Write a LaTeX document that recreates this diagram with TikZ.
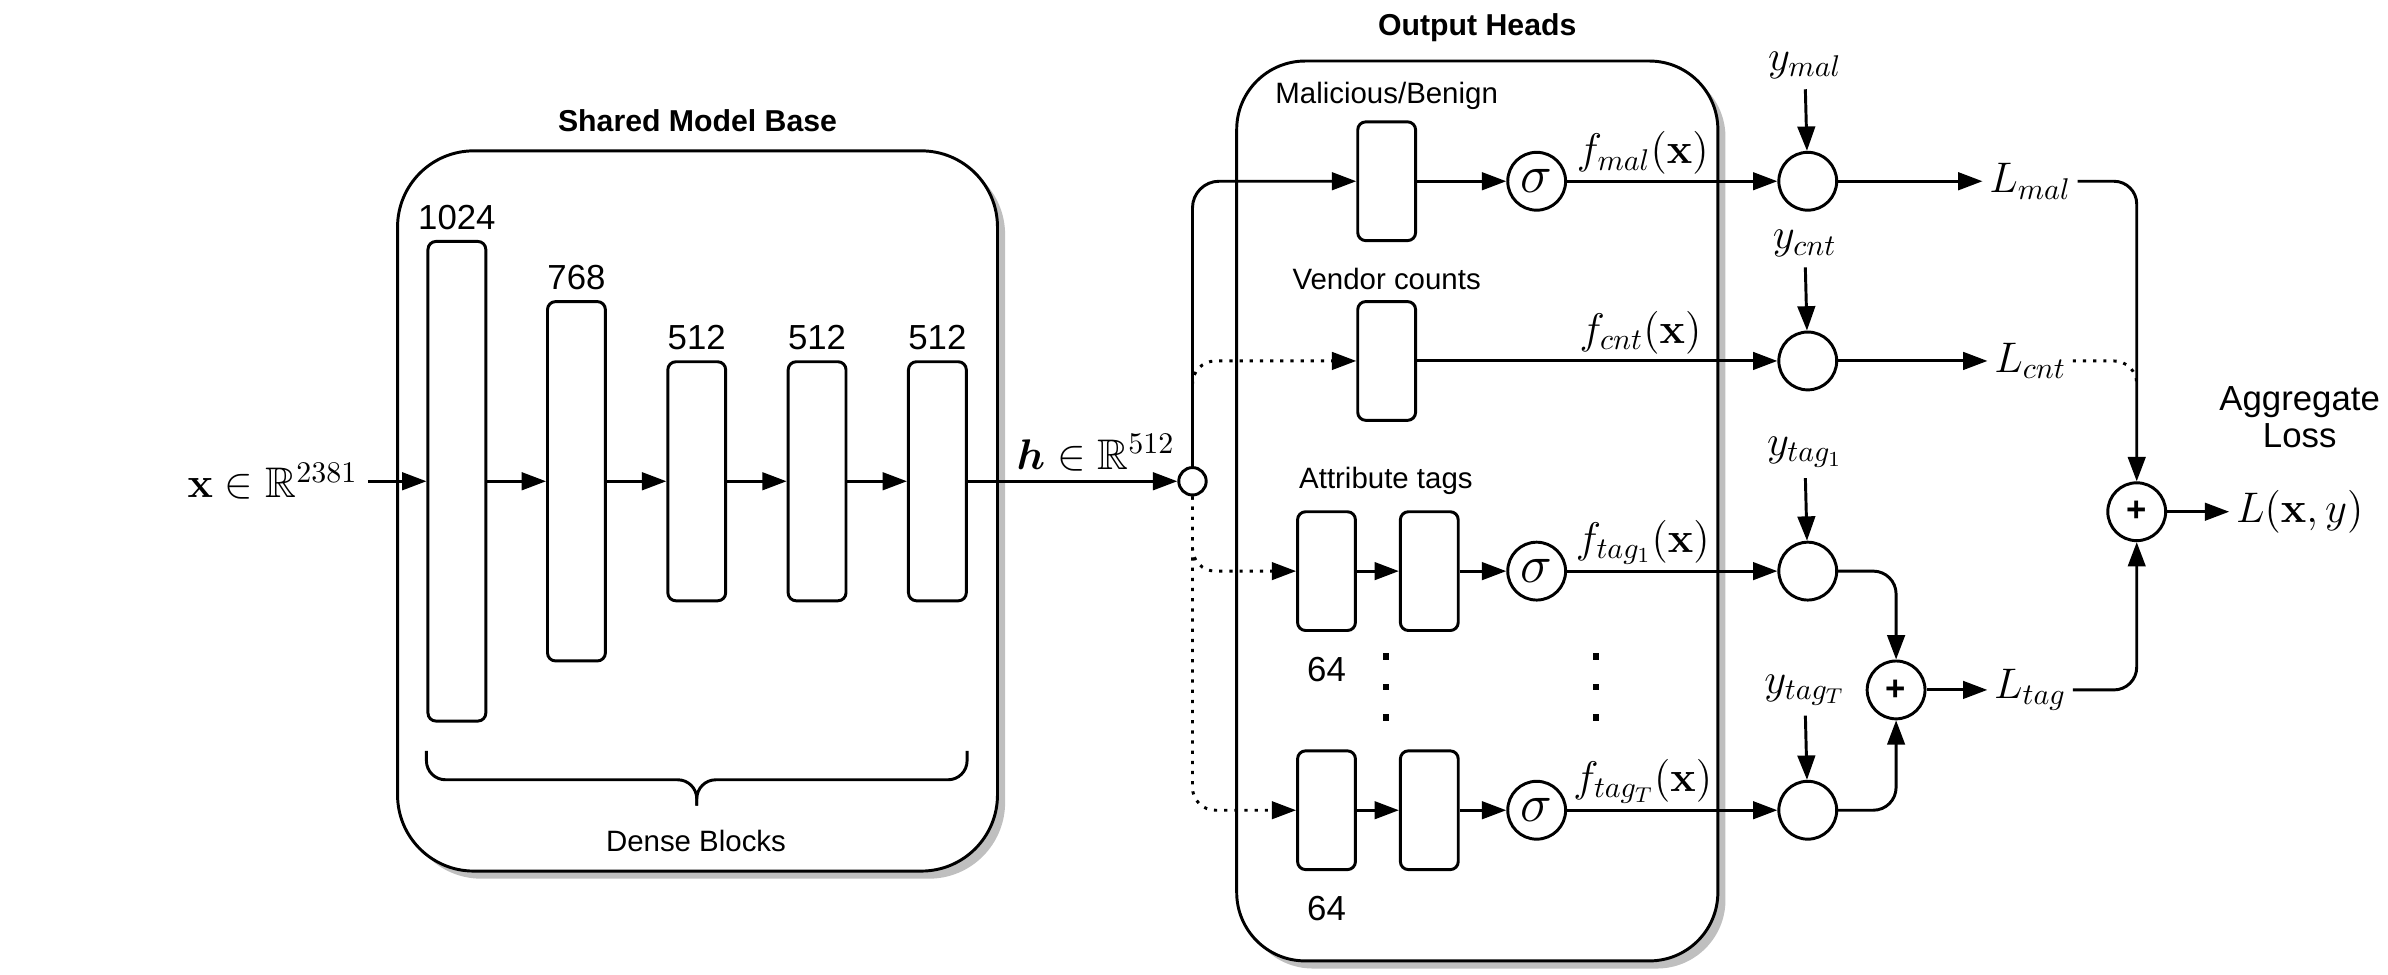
\RequirePackage{fix-cm}
\documentclass[tikz,border=0pt]{standalone}
\usepackage[no-math]{fontspec}
\setmainfont{Liberation Sans}
\usepackage{amsmath}
\usepackage{amssymb}
\usetikzlibrary{arrows.meta,positioning,shadows}

\begin{document}
\begin{tikzpicture}[x=0.02cm, y=-0.02cm, line width=1.1pt,
    >={Triangle[length=0.32cm, width=0.23cm]},
    panel/.style={draw, fill=white, rounded corners=1cm,
      drop shadow={shadow xshift=0.1cm, shadow yshift=-0.1cm, fill=black!25, opacity=1}},
    headtitle/.style={font=\fontsize{11.3}{13}\selectfont\bfseries},
    txt/.style={font=\fontsize{11}{13}\selectfont},
    num/.style={font=\fontsize{13}{15}\selectfont},
    mth/.style={font=\fontsize{16}{19}\selectfont},
    dense/.style={draw, rounded corners=3pt, minimum width=0.76cm, inner sep=0pt},
    op/.style={draw, circle, minimum size=0.76cm, inner sep=0pt, mth},
    sig/.style={op, font=\fontsize{20}{24}\selectfont},
    plusop/.style={op, font=\fontsize{13}{15}\selectfont\bfseries},
    flabel/.style={mth, above, inner sep=2pt},
    loss/.style={mth, inner sep=2pt},
    skipline/.style={->, dash pattern=on 1.2pt off 2.6pt, rounded corners=0.3cm}]
    \useasboundingbox (0,0) rectangle (1568,640);

    % containers
    \node[panel, minimum width=7.88cm, minimum height=9.46cm] (base) at (458,335.5) {};
    \node[headtitle, above=0.1cm of base] (basetitle) {Shared Model Base};
    \node[panel, rounded corners=0.9cm, minimum width=6.32cm, minimum height=11.82cm] (heads) at (970,335.5) {};
    \node[headtitle, above=0.1cm of heads] (headstitle) {Output Heads};

    % shared model base
    \node[mth] (xin) at (179,316) {$\mathbf{x}\in\mathbb{R}^{2381}$};
    \node[dense, minimum height=6.3cm, label={[num]above:1024}] (b1) at (300,316) {};
    \node[dense, minimum height=4.72cm, label={[num]above:768}] (b2) at (378.5,316) {};
    \foreach \i/\xx in {3/457.5, 4/536.5, 5/615.5}
        \node[dense, minimum height=3.14cm, label={[num]above:512}] (b\i) at (\xx,316) {};
    \draw[rounded corners=0.25cm] (280,493) |- (457.5,512) -- (457.5,529);
    \draw[rounded corners=0.25cm] (635,493) |- (457.5,512) -- (457.5,529);
    \node[txt] (densetxt) at (457,552) {Dense Blocks};

    \draw[->] (xin) -- (b1);
    \foreach \a/\b in {b1/b2, b2/b3, b3/b4, b4/b5}
        \draw[->] (\a.east) -- (\b.west);

    \node[draw, circle, minimum size=0.36cm, inner sep=0pt] (j) at (783,316) {};
    \draw[->] (b5.east) -- node[mth, above, pos=0.61] (hlab) {$\boldsymbol{h}\in\mathbb{R}^{512}$} (j);

    % output heads
    \node[dense, minimum height=1.56cm, label={[txt]above:Malicious/Benign}] (mal) at (910.5,119) {};
    \node[sig] (smal) at (1009,119) {$\sigma$};
    \node[dense, minimum height=1.56cm, label={[txt]above:Vendor counts}] (cnt) at (910.5,237) {};
    \node[txt] (attr) at (910,316) {Attribute tags};
    \node[dense, minimum height=1.56cm, label={[num, label distance=0.2cm]below:64}] (t1a) at (871,375) {};
    \node[dense, minimum height=1.56cm] (t1b) at (938.5,375) {};
    \node[sig] (st1) at (1009,375) {$\sigma$};
    \node[dense, minimum height=1.56cm, label={[num, label distance=0.2cm]below:64}] (t2a) at (871,532) {};
    \node[dense, minimum height=1.56cm] (t2b) at (938.5,532) {};
    \node[sig] (st2) at (1009,532) {$\sigma$};
    \foreach \xx in {910, 1048}
        \foreach \yy in {431, 451, 471}
            \fill (\xx,\yy) +(-2.2,-2.2) rectangle +(2.2,2.2);

    \draw[->, rounded corners=0.35cm] (j) |- (mal);
    \draw[skipline] (j) |- (cnt);
    \draw[skipline] (j) |- (t1a);
    \draw[skipline] (j) |- (t2a);
    \draw[->] (mal) -- (smal);
    \draw[->] (t1a) -- (t1b);
    \draw[->] (t1b) -- (st1);
    \draw[->] (t2a) -- (t2b);
    \draw[->] (t2b) -- (st2);

    % losses
    \node[op] (cmal) at (1187,119) {};
    \node[op] (ccnt) at (1187,237) {};
    \node[op] (ct1) at (1187,375) {};
    \node[op] (ct2) at (1187,532) {};
    \node[mth] (ymal) at (1185,43) {$y_{mal}$};
    \node[mth] (ycnt) at (1185,160) {$y_{cnt}$};
    \node[mth] (yt1) at (1185,297) {$y_{tag_1}$};
    \node[mth] (yt2) at (1185,453) {$y_{tag_T}$};
    \node[loss] (lmal) at (1333,119) {$L_{mal}$};
    \node[loss] (lcnt) at (1333,237) {$L_{cnt}$};
    \node[loss] (ltag) at (1333,453) {$L_{tag}$};
    \node[plusop] (psum) at (1245,453) {+};
    \node[plusop] (ptot) at (1403,336) {+};
    \node[loss] (lxy) at (1510,336) {$L(\mathbf{x},y)$};
    \node[num, align=center, font=\fontsize{13}{14}\selectfont] (agg) at (1510,274) {Aggregate\\Loss};
    \coordinate (cntjoin) at (1403,252);

    \draw[->] (smal) -- node[flabel, pos=0.36] {$f_{mal}(\mathbf{x})$} (cmal);
    \draw[->] (cnt) -- node[flabel, pos=0.62] {$f_{cnt}(\mathbf{x})$} (ccnt);
    \draw[->] (st1) -- node[flabel, pos=0.36] {$f_{tag_1}(\mathbf{x})$} (ct1);
    \draw[->] (st2) -- node[flabel, pos=0.36] {$f_{tag_T}(\mathbf{x})$} (ct2);
    \draw[->] (ymal) -- (cmal);
    \draw[->] (ycnt) -- (ccnt);
    \draw[->] (yt1) -- (ct1);
    \draw[->] (yt2) -- (ct2);
    \draw[->] (cmal) -- (lmal);
    \draw[->] (ccnt) -- (lcnt);
    \draw[->, rounded corners=0.3cm] (lmal) -| (ptot);
    \draw[dash pattern=on 1.2pt off 2.6pt, rounded corners=0.3cm] (lcnt) -| (cntjoin);
    \draw[->, rounded corners=0.3cm] (ct1) -| (psum);
    \draw[->, rounded corners=0.3cm] (ct2) -| (psum);
    \draw[->] (psum) -- (ltag);
    \draw[->, rounded corners=0.3cm] (ltag) -| (ptot);
    \draw[->] (ptot) -- (lxy);
\end{tikzpicture}
\end{document}
